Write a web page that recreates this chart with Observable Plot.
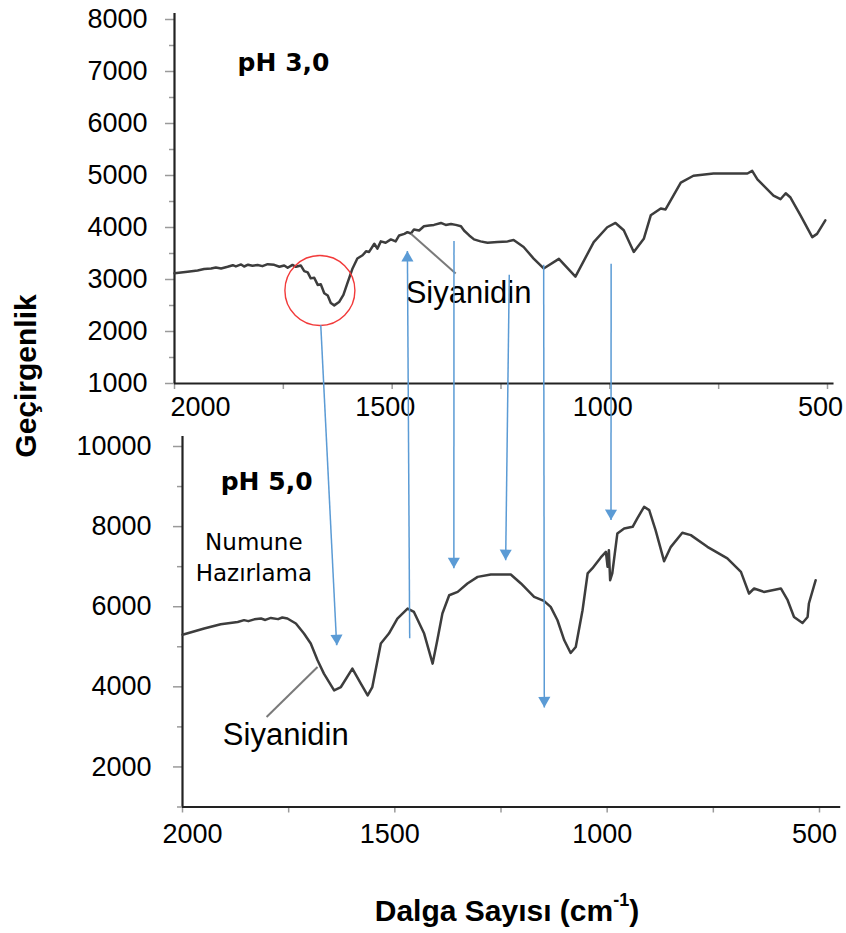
<!DOCTYPE html>
<html>
<head>
<meta charset="utf-8">
<script src="https://cdn.jsdelivr.net/npm/d3@7"></script>
<script src="https://cdn.jsdelivr.net/npm/@observablehq/plot@0.6"></script>
<style>
  body { margin: 0; background: #fff; }
  #fig { position: relative; width: 846px; height: 933px; overflow: hidden; font-family: "Liberation Sans", Arial, sans-serif; }
  #fig svg { position: absolute; left: 0; top: 0; }
  .ytitle { position: absolute; left: 26px; top: 376px; transform: translate(-50%, -50%) rotate(-90deg); font: bold 30px/30px "Liberation Sans", Arial, sans-serif; white-space: nowrap; }
  .xtitle { position: absolute; left: 507px; top: 896px; transform: translateX(-50%); font: bold 30px/30px "Liberation Sans", Arial, sans-serif; white-space: nowrap; }
  .xtitle .sup { position: relative; top: -15px; font-size: 18px; }
</style>
</head>
<body>
<div id="fig">
  <div class="ytitle">Geçirgenlik</div>
  <div class="xtitle">Dalga Sayısı (cm<span class="sup">-1</span>)</div>
</div>
<script>
// ---- Data ----
const ph3Wavenumber = [2000,1970,1947,1932,1916,1905,1893,1878,1866,1859,1847,1840,1831,1821,1809,1798,1786,1771,1759,1748,1740,1729,1721,1710,1702,1694,1687,1679,1671,1664,1656,1648,1641,1633,1622,1612,1603,1591,1580,1568,1560,1553,1541,1534,1526,1515,1503,1492,1484,1472,1465,1457,1450,1438,1427,1415,1404,1388,1377,1365,1354,1342,1335,1323,1312,1297,1281,1258,1235,1221,1198,1175,1152,1117,1079,1037,1006,987,968,945,922,906,883,872,837,808,762,684,673,661,624,608,596,585,562,535,524,505];
const ph3Transmittance = [3120,3149,3175,3200,3213,3232,3213,3244,3275,3251,3290,3250,3285,3263,3280,3257,3295,3282,3245,3270,3225,3280,3244,3270,3162,3137,3022,3035,2896,2908,2737,2693,2547,2502,2566,2705,2927,3213,3403,3466,3542,3530,3688,3593,3733,3707,3771,3733,3847,3878,3910,3885,3961,3942,4024,4037,4050,4088,4050,4069,4050,4024,3942,3847,3771,3733,3707,3720,3733,3758,3625,3402,3212,3397,3054,3720,4005,4087,3948,3530,3783,4234,4367,4348,4862,4995,5038,5038,5090,4924,4614,4544,4658,4576,4234,3815,3878,4138];

const ph5Wavenumber = [2000,1949,1910,1870,1855,1845,1831,1815,1805,1792,1775,1765,1753,1733,1714,1698,1682,1667,1643,1627,1600,1580,1564,1553,1533,1514,1494,1470,1455,1431,1411,1400,1388,1372,1352,1329,1305,1274,1227,1203,1172,1149,1133,1117,1101,1086,1074,1058,1046,1035,1015,1003,999,996,993,988,976,960,940,929,913,901,886,866,850,823,803,764,717,685,666,654,631,591,575,560,540,528,525,509];
const ph5Transmittance = [5300,5455,5562,5620,5665,5640,5685,5705,5670,5720,5690,5730,5705,5580,5330,5080,4662,4330,3912,3995,4455,4080,3787,3995,5080,5330,5705,5955,5870,5330,4580,5162,5830,6287,6370,6580,6745,6805,6805,6580,6245,6145,5995,5662,5162,4845,4995,5912,6830,6955,7230,7370,6995,7412,6662,6830,7830,7955,7995,8205,8495,8412,7912,7137,7495,7845,7787,7495,7205,6870,6330,6455,6370,6455,6162,5745,5595,5745,6080,6662];

const xTickLabels = [2000, 1500, 1000, 500];
const xTickMarks = [2000, 1750, 1500, 1250, 1000, 750, 500];
const ph3YLabels = [1000, 2000, 3000, 4000, 5000, 6000, 7000, 8000];
const ph3YMinor = [1500, 2500, 3500, 4500, 5500, 6500, 7500];
const ph5YLabels = [2000, 4000, 6000, 8000, 10000];
const ph5YMinor = [1000, 3000, 5000, 7000, 9000];

// Blue arrows linking bands in the pH 3,0 panel to the pH 5,0 panel
const arrowPh3Wavenumber = [1664, 1465, 1358, 1231, 1152, 997];
const arrowPh3Value = [2122, 3549, 3739, 3092, 3283, 3302];
const arrowPh5Wavenumber = [1637, 1465, 1361, 1239, 1148, 991];
const arrowPh5Value = [5037, 5212, 6962, 7162, 3487, 8162];
const arrowPointsUp = [false, true, false, false, false, false];

// Annotations
const ph3Title = [{w: 1855, t: 7169, text: "pH 3,0"}];
const ph5Title = [{w: 1910, t: 9112, text: "pH 5,0"}];
const ph3Circle = [{w: 1666, t: 2788}];
const ph3Label = [{w: 1469, t: 2735, text: "Siyanidin"}];
const ph3Leader = [{w1: 1457, t1: 3878, w2: 1354, t2: 3117}];
const ph5Label = [{w: 1905, t: 2787, text: "Siyanidin"}];
const ph5Leader = [{w1: 1802, t1: 3245, w2: 1682, t2: 4495}];
const ph5Note = [{w: 1832, t: 7275, text: "Numune\nHazırlama"}];

// ---- Layout ----
const W = 846, H = 933;
const TOP = {left: 174, right: 827, top: 19, bottom: 383, yDomain: [1000, 8000]};
const BOT = {left: 182, right: 819, top: 446, bottom: 806.5, yDomain: [1000, 10000]};
const xDomain = [2000, 500];
const blue = "#5b9bd5";
const curveColor = "#3d3d3d";
const tickColor = "#9a9a9a";
const baseStyle = {background: "transparent", overflow: "visible", fontFamily: "'Liberation Sans', Arial, sans-serif", fontSize: "27px", color: "black"};

const ph3 = ph3Wavenumber.map((w, i) => ({w, t: ph3Transmittance[i]}));
const ph5 = ph5Wavenumber.map((w, i) => ({w, t: ph5Transmittance[i]}));

// scales equal to those of the two panels, to carry arrow ends across panels
const topSx = Plot.scale({x: {domain: xDomain, range: [TOP.left, TOP.right]}});
const topSy = Plot.scale({y: {domain: TOP.yDomain, range: [TOP.bottom, TOP.top]}});
const botSx = Plot.scale({x: {domain: xDomain, range: [BOT.left, BOT.right]}});
const botSy = Plot.scale({y: {domain: BOT.yDomain, range: [BOT.bottom, BOT.top]}});

const arrows = arrowPh3Wavenumber.map((w, i) => {
  const a = {x: w, y: arrowPh3Value[i]};
  const b = {x: topSx.invert(botSx.apply(arrowPh5Wavenumber[i])), y: topSy.invert(botSy.apply(arrowPh5Value[i]))};
  const up = arrowPointsUp[i];
  const tail = up ? b : a, tip = up ? a : b;
  const dxp = topSx.apply(tip.x) - topSx.apply(tail.x);
  const dyp = topSy.apply(tip.y) - topSy.apply(tail.y);
  return {x1: tail.x, y1: tail.y, x2: tip.x, y2: tip.y, up, angle: Math.atan2(dxp, -dyp) * 180 / Math.PI};
});

function panelAxes(yLabels, yMinor, yTop, xAxisEnd, padY, dx2000, dxOthers, dyLabels) {
  return [
    Plot.axisY(yMinor, {tickSize: 5, tickFormat: () => "", stroke: tickColor, strokeWidth: 1.5, label: null}),
    Plot.axisY(yLabels, {tickSize: 9, tickPadding: padY, tickFormat: "d", stroke: tickColor, strokeWidth: 1.5, fill: "black", fontSize: 27, label: null}),
    Plot.axisX(xTickMarks, {tickSize: 6, tickFormat: () => "", stroke: tickColor, strokeWidth: 1.5, label: null}),
    Plot.ruleX([2000], {y1: 1000, y2: yTop, stroke: "#222", strokeWidth: 2.2}),
    Plot.ruleY([1000], {x1: 2000, x2: xAxisEnd, stroke: "#222", strokeWidth: 2.2}),
    Plot.text(xTickLabels.filter(d => d === 2000), {x: d => d, text: d => String(d), frameAnchor: "bottom", dy: dyLabels, dx: dx2000, fontSize: 27}),
    Plot.text(xTickLabels.filter(d => d !== 2000), {x: d => d, text: d => String(d), frameAnchor: "bottom", dy: dyLabels, dx: dxOthers, fontSize: 27})
  ];
}

const bottomPlot = Plot.plot({
  width: W, height: H,
  marginLeft: BOT.left, marginRight: W - BOT.right, marginTop: BOT.top, marginBottom: H - BOT.bottom,
  x: {domain: xDomain, axis: null},
  y: {domain: BOT.yDomain, axis: null},
  style: baseStyle,
  marks: [
    ...panelAxes(ph5YLabels, ph5YMinor, 10250, 450, 22, 10, -5, 36),
    Plot.line(ph5, {x: "w", y: "t", stroke: curveColor, strokeWidth: 2.5, strokeLinejoin: "round"}),
    Plot.text(ph5Title, {x: "w", y: "t", text: "text", textAnchor: "start", fontFamily: "'DejaVu Sans', sans-serif", fontWeight: "bold", fontSize: 25}),
    Plot.text(ph5Note, {x: "w", y: "t", text: "text", textAnchor: "middle", lineHeight: 1.35, fontFamily: "'DejaVu Sans', sans-serif", fontSize: 23}),
    Plot.link(ph5Leader, {x1: "w1", y1: "t1", x2: "w2", y2: "t2", stroke: "#7a7a7a", strokeWidth: 2}),
    Plot.text(ph5Label, {x: "w", y: "t", text: "text", textAnchor: "start", fontSize: 31})
  ]
});

const topPlot = Plot.plot({
  width: W, height: H,
  marginLeft: TOP.left, marginRight: W - TOP.right, marginTop: TOP.top, marginBottom: H - TOP.bottom,
  x: {domain: xDomain, axis: null},
  y: {domain: TOP.yDomain, axis: null},
  style: baseStyle,
  marks: [
    ...panelAxes(ph3YLabels, ph3YMinor, 8115, 485, 18, 26, -7, 32),
    Plot.line(ph3, {x: "w", y: "t", stroke: curveColor, strokeWidth: 2.5, strokeLinejoin: "round"}),
    Plot.text(ph3Title, {x: "w", y: "t", text: "text", textAnchor: "start", fontFamily: "'DejaVu Sans', sans-serif", fontWeight: "bold", fontSize: 25}),
    Plot.dot(ph3Circle, {x: "w", y: "t", r: 35, stroke: "#f23a3a", strokeWidth: 1.4, fill: "none"}),
    Plot.link(ph3Leader, {x1: "w1", y1: "t1", x2: "w2", y2: "t2", stroke: "#7a7a7a", strokeWidth: 2}),
    Plot.text(ph3Label, {x: "w", y: "t", text: "text", textAnchor: "start", fontSize: 31}),
    Plot.link(arrows, {x1: "x1", y1: "y1", x2: "x2", y2: "y2", stroke: blue, strokeWidth: 1.5}),
    Plot.dot(arrows, {filter: d => !d.up, x: "x2", y: "y2", symbol: "triangle", r: 4.5, fill: blue, stroke: "none", rotate: "angle", dy: -7}),
    Plot.dot(arrows, {filter: d => d.up, x: "x2", y: "y2", symbol: "triangle", r: 4.5, fill: blue, stroke: "none", rotate: "angle", dy: 7})
  ]
});

const fig = document.getElementById("fig");
fig.prepend(topPlot);
fig.prepend(bottomPlot);
</script>
</body>
</html>
